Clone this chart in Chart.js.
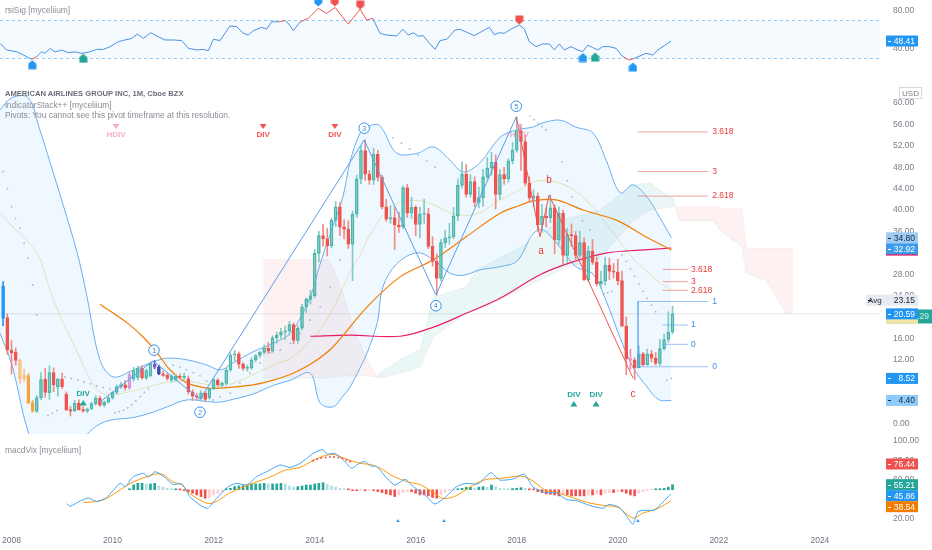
<!DOCTYPE html>
<html>
<head>
<meta charset="utf-8" />
<title>AAL 1M</title>
<script src="https://cdn.jsdelivr.net/npm/chart.js@4.4.1/dist/chart.umd.min.js"></script>
<style>
  html, body { margin: 0; padding: 0; background: #ffffff; }
  body { width: 932px; height: 550px; position: relative; overflow: hidden; font-family: "Liberation Sans", Arial, sans-serif; }
  .pane { position: absolute; left: 0; width: 932px; }
  .legend { position: absolute; left: 5px; font-size: 8.4px; color: #8a8d96; white-space: nowrap; z-index: 2; line-height: 10.5px; }
  .legend b { font-weight: bold; color: #6a6d78; font-size: 7.6px; }
</style>
<script>
// ---- x axis (decimal years) ----
const X_MIN = 2007.772, X_MAX = 2025.19;
const yearTicks = [2008, 2010, 2012, 2014, 2016, 2018, 2020, 2022, 2024];
const firstMonth = 2007 + 10 / 12; // first candle: Nov 2007

// ---- monthly candles, Nov 2007 .. Feb 2021 ----
const opens = [
  25.8, 19.9,
  13.8, 13.4, 11.9, 8.5, 9.0, 4.0, 2.4, 4.9, 8.4, 5.8, 9.6, 6.9,
  8.4, 5.6, 2.7, 2.5, 3.9, 2.7, 2.4, 2.8, 3.8, 4.8, 3.5, 4.1,
  4.9, 5.9, 7.0, 7.3, 6.8, 8.4, 8.7, 10.4, 8.6, 9.0, 11.2, 10.7,
  9.4, 9.1, 8.2, 8.3, 8.9, 8.7, 8.5, 6.0, 5.2, 4.8, 5.8, 4.9,
  6.6, 8.2, 7.2, 7.6, 10.1, 12.9, 13.1, 11.2, 10.4, 10.5, 12.0, 12.8,
  13.4, 14.2, 13.6, 16.1, 16.6, 17.2, 17.4, 18.6, 15.6, 17.9, 21.9, 23.3,
  24.0, 31.9, 35.2, 34.6, 33.3, 38.1, 40.6, 36.8, 36.4, 33.6, 39.2, 45.8,
  51.1, 46.7, 45.6, 50.4, 46.1, 40.6, 38.3, 38.6, 37.2, 36.9, 44.2, 39.4,
  40.5, 37.3, 39.2, 39.3, 33.2, 30.4, 27.2, 33.9, 34.8, 35.0, 38.9, 44.6,
  46.7, 42.9, 45.3, 41.4, 42.3, 46.2, 47.8, 48.9, 42.9, 46.6, 45.8, 49.2,
  51.2, 54.8, 52.8, 45.0, 42.2, 42.6, 37.2, 38.8, 38.5, 40.4, 34.4, 39.4,
  31.5, 35.4, 35.2, 31.5, 33.9, 27.0, 32.3, 30.2, 26.2, 26.7, 29.7, 28.5,
  28.4, 26.8, 18.3, 12.2, 12.0, 10.5, 13.1, 11.1, 13.1, 12.3, 11.3, 14.1,
  15.8, 17.2
];
const highs = [
  26.6, 20.6,
  15.6, 14.2, 12.2, 10.3, 9.4, 4.4, 5.3, 9.6, 10.4, 10.9, 10.5, 8.6,
  9.5, 6.0, 3.3, 4.4, 4.5, 3.3, 3.0, 4.1, 5.3, 5.2, 4.3, 5.2,
  6.0, 7.3, 7.8, 8.1, 9.6, 10.6, 10.8, 10.9, 10.3, 11.6, 11.9, 11.0,
  9.9, 9.4, 9.2, 9.3, 9.4, 9.5, 9.0, 6.4, 5.7, 6.2, 6.0, 6.8,
  8.6, 8.5, 7.9, 10.5, 13.3, 13.8, 13.5, 11.5, 11.0, 12.4, 13.0, 13.6,
  14.8, 15.2, 16.5, 17.2, 17.9, 18.3, 19.2, 18.9, 18.4, 22.4, 23.6, 25.0,
  32.6, 36.0, 37.3, 36.6, 38.5, 41.6, 41.4, 38.2, 38.0, 39.8, 46.5, 52.0,
  53.1, 47.4, 51.6, 51.2, 46.5, 42.0, 40.8, 40.5, 39.6, 44.5, 44.8, 42.4,
  40.8, 40.5, 42.0, 40.3, 35.0, 31.8, 34.5, 36.2, 37.5, 40.5, 45.8, 49.0,
  48.5, 46.6, 46.2, 44.3, 47.6, 49.8, 50.8, 50.3, 47.6, 48.0, 49.6, 52.6,
  57.4, 55.6, 54.0, 46.2, 43.8, 43.2, 41.0, 40.4, 42.8, 41.0, 40.6, 40.0,
  36.6, 37.4, 36.0, 36.0, 34.8, 33.2, 34.5, 31.2, 28.6, 31.2, 31.0, 30.0,
  30.8, 28.6, 20.0, 14.0, 12.4, 14.6, 13.4, 14.0, 13.8, 13.4, 15.8, 16.8,
  21.0, 22.0
];
const lows = [
  18.4, 13.0,
  9.3, 11.0, 7.6, 7.9, 3.8, 2.2, 2.1, 4.5, 5.0, 4.6, 6.0, 5.2,
  6.6, 2.5, 1.5, 2.3, 2.6, 2.2, 2.1, 2.7, 3.5, 3.3, 3.2, 3.9,
  4.6, 5.6, 6.6, 6.3, 6.5, 8.0, 8.2, 8.4, 8.3, 8.8, 10.3, 9.2,
  8.9, 8.2, 7.8, 8.0, 8.4, 8.3, 5.6, 4.4, 4.6, 4.3, 4.3, 4.6,
  6.4, 7.0, 6.8, 7.3, 9.8, 11.8, 10.4, 10.0, 9.9, 10.2, 11.6, 12.4,
  13.1, 13.2, 13.4, 15.1, 16.0, 15.8, 16.6, 15.0, 15.1, 17.6, 20.8, 22.4,
  23.6, 30.3, 33.2, 31.4, 32.9, 36.9, 35.2, 34.6, 32.8, 26.8, 38.6, 44.9,
  45.5, 44.8, 44.8, 45.4, 40.2, 37.9, 37.5, 32.6, 35.8, 36.5, 38.6, 38.4,
  35.2, 34.8, 37.5, 32.8, 29.5, 24.1, 26.8, 33.0, 33.6, 34.6, 38.0, 44.1,
  42.4, 42.4, 40.6, 40.4, 40.7, 45.8, 46.5, 40.2, 42.0, 44.8, 45.2, 48.6,
  50.8, 47.4, 44.6, 41.4, 40.6, 36.0, 35.8, 36.8, 37.6, 31.8, 33.6, 29.8,
  30.2, 33.2, 30.4, 31.0, 26.8, 26.6, 29.8, 25.8, 25.4, 26.0, 27.0, 27.3,
  26.0, 18.2, 9.2, 10.2, 8.3, 10.5, 10.9, 11.0, 11.6, 11.0, 10.9, 13.8,
  15.3, 16.9
];
const closes = [
  19.8, 13.8,
  13.3, 11.9, 8.4, 9.1, 4.0, 2.4, 4.9, 8.3, 5.9, 9.6, 7.3, 8.4,
  7.0, 2.7, 2.4, 3.9, 2.7, 2.4, 2.8, 3.8, 4.8, 3.5, 4.1, 4.9,
  5.9, 7.0, 7.3, 6.8, 9.2, 10.0, 10.4, 8.6, 10.0, 11.3, 10.6, 9.4,
  9.1, 8.5, 9.0, 8.9, 8.7, 8.9, 6.0, 5.2, 5.0, 5.8, 4.6, 6.6,
  8.3, 7.3, 7.6, 10.1, 12.9, 13.1, 11.2, 10.4, 10.5, 12.0, 12.8, 13.4,
  14.2, 13.6, 16.1, 16.6, 17.2, 17.4, 18.6, 15.6, 17.9, 21.9, 23.3, 24.0,
  31.9, 35.2, 34.6, 33.3, 38.1, 40.6, 36.8, 36.4, 33.6, 39.2, 45.8, 51.1,
  46.7, 45.6, 50.4, 46.1, 40.6, 38.3, 38.6, 37.2, 36.9, 44.2, 39.4, 40.5,
  37.3, 39.2, 39.3, 33.2, 30.4, 27.2, 33.9, 34.8, 35.0, 38.9, 44.6, 46.7,
  42.9, 45.3, 41.4, 42.3, 46.2, 47.8, 48.9, 42.9, 46.6, 45.8, 49.2, 51.2,
  54.8, 52.8, 45.0, 42.2, 42.6, 37.2, 38.8, 38.5, 40.4, 34.4, 39.4, 31.5,
  35.4, 35.2, 31.5, 33.9, 27.0, 32.3, 30.2, 26.2, 26.7, 29.7, 28.5, 28.4,
  26.8, 18.3, 12.2, 12.0, 10.5, 13.1, 11.1, 13.1, 12.3, 11.3, 14.1, 15.8,
  17.2, 20.6
];

// ---- bollinger bands ----
const bbYears = [2007.77, 2008.01, 2008.33, 2008.56, 2008.76, 2009.02, 2009.30, 2009.49, 2009.75, 2010.01,
  2010.41, 2010.80, 2011.08, 2011.47, 2011.87, 2012.13, 2012.38, 2012.78, 2013.18, 2013.52,
  2013.91, 2014.11, 2014.36, 2014.56, 2014.70, 2014.90, 2015.04, 2015.24, 2015.35, 2015.63,
  2016.03, 2016.35, 2016.68, 2016.94, 2017.27, 2017.67, 2018.01, 2018.32, 2018.52, 2018.86,
  2019.17, 2019.51, 2019.77, 2020.05, 2020.30, 2020.58, 2020.82, 2021.06];
const bbUpper = [58.7, 61, 61, 55, 49, 41, 32, 24, 12, 8.8,
  10.1, 11.6, 12.3, 12.0, 11.0, 10.1, 11.4, 13.5, 15.1, 17.0,
  23.7, 30, 37, 42.5, 49, 54.4, 55.5, 56, 55.0, 50.6,
  50.6, 51.8, 49.3, 47.1, 48.8, 53.6, 55, 55.5, 56.3, 56.8,
  55.5, 54.4, 49.3, 43.2, 44.7, 42.4, 38.8, 34.8];
const bbMid = [39.4, 37, 34, 31, 25, 19, 13.5, 9.5, 6.0, 5.5,
  6.2, 7.2, 7.8, 8.0, 7.4, 7.0, 7.6, 9.2, 11.0, 12.3,
  15.5, 17.6, 21.5, 25.5, 28.5, 31.5, 34.5, 37.5, 39, 41.2,
  41.8, 41, 39.5, 39, 39.5, 41.9, 43.5, 45.2, 45.5, 45.0,
  43.5, 40.5, 37.5, 34, 31, 28.5, 26.5, 25];
const bbLower = [17, 11, -1.5, -5, -7, -8, -5, -2, 0, 0.8,
  1.2, 2.2, 3.2, 4.5, 4.2, 4.1, 4.6, 5.6, 7.2, 8.2,
  9.5, 3.9, 3.2, 5.2, 6.9, 10.5, 13.3, 19, 25.6, 30,
  32, 30.7, 28.2, 27.8, 28.8, 29.4, 30.5, 35.5, 36.3, 33,
  29.4, 28, 23, 16, 10.6, 6.9, 4.5, 4.4];

// ---- moving averages ----
const maYears = [2009.75, 2010.29, 2010.60, 2010.88, 2011.14, 2011.47, 2011.87, 2012.13, 2012.38, 2012.78,
  2013.18, 2013.57, 2013.97, 2014.36, 2015.04, 2015.69, 2016.35, 2017.00, 2017.67, 2018.07,
  2018.32, 2018.78, 2019.31, 2019.97, 2020.50, 2021.06];
const maValues = [22.4, 18.9, 16.3, 13.3, 10.1, 7.7, 6.7, 6.7, 6.9, 7.3,
  8.2, 9.5, 11.5, 14.4, 21.9, 27.5, 30.7, 35.0, 39.4, 40.9,
  41.7, 41.9, 40.0, 38.1, 35.3, 32.5];
const slowYears = [2013.91, 2014.70, 2015.69, 2016.35, 2017.00, 2017.67, 2018.46, 2019.11, 2019.79, 2020.44, 2021.06];
const slowValues = [16.4, 16.6, 16.4, 18.1, 20.7, 23.5, 27.9, 30.3, 32.0, 32.5, 32.9];

// ---- parabolic SAR dots ----
const sarYears = [2007.83, 2007.92, 2008.00, 2008.08, 2008.17, 2008.25, 2008.33, 2008.42, 2008.50,
  2008.72, 2008.81, 2008.90,
  2009.06, 2009.18, 2009.31, 2009.43, 2009.56, 2009.69, 2009.82, 2009.95,
  2010.05, 2010.13, 2010.22, 2010.30, 2010.38, 2010.46, 2010.55, 2010.63, 2010.71,
  2011.20, 2011.33, 2011.46, 2011.60, 2011.73, 2011.86,
  2011.99, 2012.13, 2012.33, 2012.52, 2012.72, 2012.92, 2013.12, 2013.32, 2013.52, 2013.71, 2013.91, 2014.11, 2014.31, 2014.50, 2014.70,
  2015.55, 2015.72, 2015.88, 2016.05, 2016.22, 2016.38,
  2018.26, 2018.34, 2018.42, 2018.50, 2018.58,
  2018.90, 2019.00, 2019.10, 2019.20, 2019.30, 2019.45,
  2019.72, 2019.80, 2019.88,
  2020.08, 2020.17, 2020.25, 2020.33, 2020.42, 2020.50, 2020.58, 2020.67, 2020.75,
  2020.97, 2021.06];
const sarValues = [47.2, 44.0, 40.6, 38.4, 36.6, 33.8, 31.0, 26.0, 20.4,
  1.6, 2.0, 2.5,
  8.8, 8.5, 8.2, 7.9, 7.5, 7.1, 6.8, 6.5,
  2.1, 2.3, 2.6, 3.0, 3.6, 4.3, 5.1, 5.9, 6.6,
  11.0, 10.6, 10.1, 9.6, 9.0, 8.0,
  4.5, 5.1, 5.8, 7.7, 9.5, 11.4, 13.3, 13.8, 15.1, 17.0, 19.4, 21.9, 25.6, 30.7, 34.4,
  53.5, 52.5, 51.4, 50.3, 49.2, 48.0,
  57.6, 56.9, 56.2, 55.6, 55.0,
  49.0, 45.5, 42.5, 40.5, 38.0, 36.3,
  24.3, 24.5, 24.8,
  31.6, 30.4, 29.0, 27.6, 26.2, 24.8, 23.5, 22.2, 21.0,
  8.2, 8.5];

// ---- cloud ----
const cloudYears = [2012.98, 2014.27, 2014.36, 2014.56, 2014.76, 2015.04, 2015.24, 2015.29, 2015.69, 2016.09,
  2016.35, 2017.00, 2017.21, 2018.07, 2018.86, 2019.65, 2020.30, 2020.64, 2021.10, 2021.22,
  2021.89, 2022.01, 2022.46, 2022.54, 2022.94, 2023.33, 2023.47];
const cloudA = [8.6, 8.6, 8.8, 9.0, 9.0, 9.0, 8.8, 9.5, 12.0, 14.0,
  23.7, 25.6, 28.8, 33.0, 38.0, 40.0, 44.7, 45.0, 42.0, 38.0,
  38.0, 36.3, 33.1, 28.2, 26.9, 20.7, 20.7];
const cloudB = [30.7, 30.7, 29.3, 24.5, 18.1, 12.0, 8.8, 8.5, 9.5, 10.6,
  16.3, 20.7, 21.3, 25.0, 28.8, 31.0, 38.0, 40.0, 40.6, 40.6,
  40.6, 40.4, 40.2, 32.9, 32.9, 32.9, 32.9];

// ---- wave counts ----
const waveYears = [2009.75, 2010.80, 2011.73, 2014.98, 2016.40, 2017.99];
const wavePrices = [4.1, 11.8, 4.6, 53.1, 24.1, 57.4];
const corrYears = [2017.99, 2018.46, 2018.64, 2020.30];
const corrPrices = [57.4, 35.0, 42.8, 8.6];
const waveTagYears = [2010.82, 2011.73, 2014.98, 2016.40, 2017.99];
const waveTagPrices = [13.8, 2.2, 55.3, 22.1, 59.4];
const waveTagTexts = ['1', '2', '3', '4', '5'];
const abcYears = [2018.48, 2018.64, 2020.30];
const abcPrices = [32.3, 45.6, 5.6];
const abcTexts = ['a', 'b', 'c'];

// ---- divergence tags ----
const divYears = [2010.07, 2012.98, 2014.40, 2018.05, 2009.42, 2019.13, 2019.57];
const divPrices = [54.0, 54.0, 54.0, 54.0, 5.6, 5.4, 5.4];
const divTexts = ['HDIV', 'DIV', 'DIV', 'HDIV', 'DIV', 'DIV', 'DIV'];
const divKinds = ['hbear', 'bear', 'bear', 'hbear', 'bull', 'bull', 'bull'];

// ---- fib projections ----
const fibWideYears = [2020.40, 2021.79];
const fibNarrowYears = [2020.89, 2021.39];
const fibRedLabels = ['3.618', '3', '2.618'];
const fibRedWidePrices = [54.6, 47.2, 42.6];
const fibRedNarrowPrices = [28.9, 26.6, 25.0];
const fibBlueLabels = ['1', '0'];
const fibBlueWidePrices = [22.9, 10.7];
const fibBlueNarrowPrices = [18.5, 14.9];
const lastPrice = 20.59;

// ---- rsi pane ----
const rsiYears = [2007.772, 2007.905, 2008.103, 2008.234, 2008.400, 2008.499, 2008.598, 2008.663, 2008.762, 2008.861,
  2008.994, 2009.124, 2009.257, 2009.390, 2009.554, 2009.686, 2009.817, 2009.950, 2010.114, 2010.247,
  2010.379, 2010.490, 2010.609, 2010.755, 2010.874, 2011.038, 2011.203, 2011.369, 2011.500, 2011.666,
  2011.797, 2011.896, 2011.995, 2012.127, 2012.325, 2012.458, 2012.588, 2012.687, 2012.786, 2012.953,
  2013.051, 2013.150, 2013.281, 2013.414, 2013.479, 2013.578, 2013.711, 2013.875, 2014.073, 2014.239,
  2014.404, 2014.536, 2014.667, 2014.766, 2014.899, 2015.031, 2015.150, 2015.294, 2015.427, 2015.625,
  2015.743, 2015.854, 2015.953, 2016.052, 2016.151, 2016.284, 2016.383, 2016.482, 2016.614, 2016.779,
  2016.878, 2016.997, 2017.161, 2017.294, 2017.458, 2017.557, 2017.656, 2017.755, 2017.887, 2018.052,
  2018.150, 2018.249, 2018.382, 2018.515, 2018.645, 2018.744, 2018.843, 2018.942, 2019.075, 2019.174,
  2019.306, 2019.405, 2019.504, 2019.603, 2019.702, 2019.833, 2019.965, 2020.098, 2020.228, 2020.327,
  2020.427, 2020.559, 2020.692, 2020.791, 2020.922, 2021.054];
const rsiValues = [46, 38.9, 37.1, 33.7, 29.2, 31.9, 37.2, 35.4, 40.7, 37,
  38.9, 36.2, 37, 35.4, 37, 39.6, 39.6, 42.4, 47.7, 49.5,
  51.1, 55.8, 51.1, 57.2, 53.7, 49.5, 49.5, 48.9, 40.7, 39,
  39.6, 38.2, 50.2, 48.9, 64.2, 63.5, 56.5, 54.7, 59.3, 62.8,
  61, 68.8, 68.5, 70, 67, 59.3, 68.5, 72.3, 82.8, 77.5,
  83.8, 74.7, 66.3, 73, 81.8, 70.5, 72.3, 56.5, 54.7, 53.7,
  60.7, 54.7, 57.2, 53.5, 54, 45.3, 39.7, 48.9, 50.2, 60,
  60.7, 58, 54, 58, 62.8, 55, 57.2, 56.5, 61, 65.3,
  61, 47.7, 42.5, 45.3, 45.3, 39, 45.3, 39, 42.5, 39.7,
  37.2, 44, 41.5, 39, 42.5, 42.5, 40.7, 31.9, 28.4, 30.1,
  32.5, 35.4, 33.7, 38.9, 43.5, 48.41];
const rsiMarkYears = [2008.41, 2009.42, 2014.07, 2014.40, 2014.90, 2018.05, 2019.31, 2019.55, 2020.30];
const rsiMarkValues = [23.5, 30.2, 89.5, 89.5, 86.3, 70.5, 31.0, 31.5, 21.0];
const rsiMarkKinds = ['blueUp', 'tealUp', 'blueDown', 'redDown', 'redDown', 'redDown', 'blueUp', 'tealUp', 'blueUp'];

// ---- macd pane ----
const macdYears = [2009.09, 2009.16, 2009.36, 2009.52, 2009.69, 2009.88, 2010.15, 2010.25, 2010.41, 2010.61,
  2010.71, 2010.84, 2011.00, 2011.20, 2011.37, 2011.53, 2011.73, 2011.88, 2012.06, 2012.29,
  2012.46, 2012.66, 2012.85, 2013.12, 2013.31, 2013.51, 2013.71, 2013.97, 2014.16, 2014.24,
  2014.40, 2014.57, 2014.73, 2014.90, 2015.00, 2015.10, 2015.23, 2015.43, 2015.59, 2015.79,
  2015.95, 2016.18, 2016.38, 2016.61, 2016.81, 2017.00, 2017.23, 2017.49, 2017.66, 2017.92,
  2018.15, 2018.32, 2018.58, 2018.78, 2018.98, 2019.17, 2019.44, 2019.70, 2019.83, 2020.03,
  2020.16, 2020.30, 2020.40, 2020.56, 2020.72, 2020.89, 2021.05];
const macdValues = [36, 33, 38.5, 41.5, 38, 42, 56.6, 53, 63.4, 66.8,
  63, 68.5, 64, 55.6, 56, 42.9, 34.4, 31, 41.2, 53.2,
  56.6, 54.9, 63.4, 70.3, 75.4, 72.9, 77, 87.3, 91.4, 86.6,
  87.3, 80.5, 72, 77.8, 78.8, 74.5, 73.8, 61.7, 54.9, 60.7,
  53.2, 44.6, 35.4, 43.5, 53.2, 56.6, 56, 67.5, 60, 61,
  66, 53, 47, 47, 40, 39, 34, 31, 35, 32,
  24, 14.6, 27.5, 29, 29, 37, 45.86];
const signalYears = [2009.42, 2009.69, 2009.88, 2010.15, 2010.41, 2010.84, 2011.00, 2011.20, 2011.37, 2011.53,
  2011.88, 2012.06, 2012.29, 2012.55, 2012.85, 2013.12, 2013.41, 2013.71, 2013.97, 2014.20,
  2014.40, 2014.60, 2014.90, 2015.10, 2015.30, 2015.55, 2015.85, 2016.10, 2016.35, 2016.55,
  2016.81, 2017.05, 2017.35, 2017.75, 2018.10, 2018.32, 2018.58, 2018.80, 2019.10, 2019.40,
  2019.70, 2020.00, 2020.30, 2020.50, 2020.80, 2021.05];
const signalValues = [37, 38, 41, 50, 58, 66, 65.5, 58, 55, 46,
  36, 38, 46, 52, 58, 63, 70, 73, 80, 85,
  86, 82, 77, 76, 72, 64, 58, 55, 47, 41,
  44, 52, 60, 62, 64, 59, 49, 47, 42, 37,
  34, 32, 21, 26, 31, 38.54];
const histStart = 2010 + 4 / 12; // May 2010
const histBase = 50;
const histValues = [
  1.0, 4.9, 6.6, 6.6, 6.0, 6.0, 6.6, 3.9,
  2.6, 1.5, 0.5, 0.5, -0.1, -1.0, -1.9, -3.6, -5.3, -7.0, -8.7, -8.0,
  -5.3, -3.6, -1.9, 0.8, 1.5, 3.2, 3.9, 4.2, 4.9, 6.0, 6.0, 6.0,
  6.6, 6.0, 6.0, 6.0, 6.6, 6.0, 3.9, 2.6, 3.2, 3.9, 4.9, 4.9,
  6.0, 6.6, 7.3, 5.6, 3.9, 2.6, 1.5, 0.5, -0.1, -1.0, -1.0, -0.7,
  -1.0, -0.7, -1.0, -1.9, -2.9, -4.3, -5.3, -7.0, -5.3, -2.9, -1.9, -1.9,
  -3.6, -5.3, -5.3, -6.3, -8.0, -8.7, -5.3, -2.9, -1.0, -0.1, 0.8, 1.5,
  2.6, 2.6, 1.5, 2.6, 3.2, 2.6, 4.9, 3.2, 1.5, 0.8, 0.5, 1.2,
  1.5, 2.2, 1.5, -0.1, -0.1, -1.9, -2.9, -4.3, -4.6, -5.3, -6.3, -5.3,
  -5.3, -6.3, -6.3, -6.3, -6.3, -5.3, -5.3, -4.6, -5.3, -3.6, -2.9, -2.9,
  -1.9, -1.9, -3.6, -5.3, -6.3, -3.6, -1.9, -0.7, -0.1, 0.0, 0.8, 1.5,
  2.6, 5.21
];
const macdDotYears = [2013.97, 2014.05, 2014.13, 2014.22, 2014.30, 2014.38, 2014.47, 2014.55, 2014.63, 2014.70];
const macdDotValues = [80, 81.5, 82.5, 83, 83.5, 83.5, 83, 82, 80.5, 79];
const macdArrowYears = [2015.65, 2016.56, 2020.40];
const macdArrowValues = [18, 18, 18];
</script>
</head>
<body>
<div class="pane" style="top:0;height:76px"><canvas id="rsiCanvas"></canvas></div>
<div class="pane" style="top:76px;height:358px"><canvas id="priceCanvas"></canvas></div>
<div class="pane" style="top:434px;height:116px"><canvas id="macdCanvas"></canvas></div>
<div class="legend" style="top:5px">rsiSig [myceliium]</div>
<div class="legend" style="top:88px"><b>AMERICAN AIRLINES GROUP INC, 1M, Cboe BZX</b><br>indicatorStack++ [myceliium]<br>Pivots: You cannot see this pivot timeframe at this resolution.</div>
<div class="legend" style="top:445px">macdVix [myceliium]</div>

<script>
Chart.defaults.font.family = '"Liberation Sans", Arial, sans-serif';
Chart.defaults.font.size = 8.5;
Chart.defaults.color = '#7b7e88';

const FONT = '"Liberation Sans", Arial, sans-serif';
const UP = '#4db6ac', DOWN = '#ef5350';
const UP_WICK = '#80cbc4', DOWN_WICK = '#f08a87';
const candleStyle = {
  0: { color: '#2196f3', hollow: false },
  4: { color: '#f9c38a', hollow: false },
  5: { color: '#f9c38a', hollow: false },
  6: { color: '#f5a340', hollow: false },
  7: { color: '#f5a340', hollow: false },
  30: { color: '#ce93d8', hollow: true },
  36: { color: '#7e57c2', hollow: false },
  37: { color: '#3949ab', hollow: false },
  149: { color: '#f48fb1', hollow: true }
};

const pts = (xs, ys) => xs.map((x, i) => ({ x: x, y: ys[i] }));

function xAxis(show) {
  return {
    type: 'linear', min: X_MIN, max: X_MAX, display: show, offset: false,
    grid: { display: false, drawTicks: false }, border: { display: false },
    ticks: { autoSkip: false, maxRotation: 0, padding: 6, color: '#6f7280', callback: v => String(v) },
    afterBuildTicks: s => { s.ticks = yearTicks.map(v => ({ value: v })); },
    afterFit: s => { s.height = show ? 20 : 0; s.paddingLeft = 0; s.paddingRight = 0; }
  };
}
function yAxis(min, max, ticks) {
  return {
    position: 'right', min: min, max: max,
    grid: { display: false, drawTicks: false }, border: { display: false },
    ticks: { autoSkip: false, padding: 13, color: '#7b7e88', callback: v => v.toFixed(2) },
    afterBuildTicks: s => { s.ticks = ticks.map(v => ({ value: v })); },
    afterFit: s => { s.width = 52; s.paddingTop = 0; s.paddingBottom = 0; }
  };
}
const baseOptions = () => ({
  responsive: true, maintainAspectRatio: false, animation: false,
  layout: { padding: 0, autoPadding: false },
  plugins: { legend: { display: false }, tooltip: { enabled: false } }
});

// right-hand value boxes
function drawBoxes(chart, items) {
  const ctx = chart.ctx, y = chart.scales.y;
  let prev = -Infinity;
  ctx.save();
  ctx.font = '8.5px ' + FONT;
  ctx.textBaseline = 'middle';
  items.forEach(it => {
    let py = y.getPixelForValue(it.value);
    if (it.stack) { if (py < prev + 11) py = prev + 11; prev = py; }
    const x0 = it.x0 || 886, x1 = it.x1 || 918, h = it.h || 11;
    ctx.fillStyle = it.bg;
    ctx.fillRect(x0, py - h / 2, x1 - x0, h);
    if (it.text) {
      ctx.fillStyle = it.fg;
      ctx.textAlign = 'right';
      ctx.fillText(it.text, x1 - 3, py + 0.5);
      ctx.fillRect(x0 + 2, Math.round(py), 3, 1);
    }
  });
  ctx.restore();
}

function makeMarker(color, down) {
  const c = document.createElement('canvas');
  c.width = 9; c.height = 10;
  const g = c.getContext('2d');
  g.fillStyle = color;
  g.beginPath();
  if (down) { g.moveTo(0.5, 0.5); g.lineTo(8.5, 0.5); g.lineTo(8.5, 6); g.lineTo(4.5, 9.5); g.lineTo(0.5, 6); }
  else { g.moveTo(4.5, 0.5); g.lineTo(8.5, 4); g.lineTo(8.5, 9.5); g.lineTo(0.5, 9.5); g.lineTo(0.5, 4); }
  g.closePath();
  g.fill();
  return c;
}

window.addEventListener('DOMContentLoaded', function () {
  // ================= RSI =================
  const markerImgs = {
    blueUp: makeMarker('#2196f3', false), tealUp: makeMarker('#26a69a', false),
    blueDown: makeMarker('#2196f3', true), redDown: makeMarker('#ef5350', true)
  };
  const rsiOptions = baseOptions();
  rsiOptions.scales = { x: xAxis(false), y: yAxis(11.58, 91.58, [40, 80]) };
  new Chart(document.getElementById('rsiCanvas'), {
    type: 'line',
    data: {
      datasets: [
        { data: pts([X_MIN, X_MAX], [70, 70]), borderColor: '#90caf9', borderWidth: 1, borderDash: [3, 3],
          pointRadius: 0, fill: { target: 1, above: 'rgba(33,150,243,0.045)', below: 'rgba(33,150,243,0.045)' }, order: 5 },
        { data: pts([X_MIN, X_MAX], [30, 30]), borderColor: '#90caf9', borderWidth: 1, borderDash: [3, 3],
          pointRadius: 0, fill: false, order: 5 },
        { data: pts(rsiYears, rsiValues), borderColor: '#4a90e2', borderWidth: 1, pointRadius: 0, tension: 0,
          segment: { borderColor: c => { const m = (c.p0.parsed.y + c.p1.parsed.y) / 2; return (m > 69 || m < 31) ? '#ef5350' : undefined; } },
          order: 2 },
        { data: pts(rsiMarkYears, rsiMarkValues), showLine: false,
          pointStyle: rsiMarkKinds.map(k => markerImgs[k]), order: 1 }
      ]
    },
    options: rsiOptions,
    plugins: [{ id: 'rsiBoxes', afterDraw: ch => drawBoxes(ch, [{ value: 48.41, text: '48.41', bg: '#2196f3', fg: '#ffffff' }]) }]
  });

  // ================= PRICE =================
  const wickData = [], wickColors = [], bodyData = [], bodyFill = [], bodyLine = [];
  closes.forEach((c, i) => {
    const o = opens[i], x = firstMonth + i / 12;
    const up = c >= o;
    const sp = candleStyle[i];
    const line = sp ? sp.color : (up ? UP : DOWN);
    const hollow = sp ? sp.hollow : up;
    bodyData.push({ x: x, y: [o, c] });
    bodyFill.push(hollow ? 'rgba(0,0,0,0)' : line);
    bodyLine.push(line);
    const wc = sp ? sp.color : (up ? UP_WICK : DOWN_WICK);
    wickData.push({ x: x, y: [Math.max(o, c), highs[i]] }, { x: x, y: [lows[i], Math.min(o, c)] });
    wickColors.push(wc, wc);
  });

  const priceSets = [
    { data: pts(cloudYears, cloudA), borderColor: 'rgba(38,166,154,0.15)', borderWidth: 0.6, pointRadius: 0,
      fill: { target: 1, above: 'rgba(38,166,154,0.09)', below: 'rgba(242,54,69,0.07)' }, order: 30 },
    { data: pts(cloudYears, cloudB), borderColor: 'rgba(242,54,69,0.10)', borderWidth: 0.6, pointRadius: 0, fill: false, order: 30 },
    { data: pts(bbYears, bbUpper), borderColor: '#6aaef0', borderWidth: 1, pointRadius: 0, tension: 0.35,
      fill: { target: 3, above: 'rgba(33,150,243,0.07)', below: 'rgba(33,150,243,0.07)' }, order: 20 },
    { data: pts(bbYears, bbLower), borderColor: '#6aaef0', borderWidth: 1, pointRadius: 0, tension: 0.35, fill: false, order: 20 },
    { data: pts(bbYears, bbMid), borderColor: 'rgba(205,205,110,0.6)', borderWidth: 0.8, pointRadius: 0, tension: 0.35, fill: false, order: 19 },
    { data: pts([X_MIN, X_MAX], [lastPrice, lastPrice]), borderColor: 'rgba(0,0,0,0.10)', borderWidth: 1, pointRadius: 0, fill: false, order: 18 },
    { data: pts(maYears, maValues), borderColor: '#f57c00', borderWidth: 1.2, pointRadius: 0, tension: 0.35, fill: false, order: 12 },
    { data: pts(slowYears, slowValues), borderColor: '#e91e63', borderWidth: 1.2, pointRadius: 0, tension: 0.35, fill: false, order: 12 },
    { data: pts(sarYears, sarValues), showLine: false, pointRadius: 0.9, pointBackgroundColor: 'rgba(120,130,150,0.55)',
      pointBorderWidth: 0, order: 11 },
    { type: 'bar', data: wickData, backgroundColor: wickColors, borderWidth: 0, barThickness: 1, grouped: false, order: 6 },
    { type: 'bar', data: bodyData, backgroundColor: bodyFill, borderColor: bodyLine, borderWidth: 1,
      borderSkipped: false, barThickness: 3, minBarLength: 1, grouped: false, order: 5 },
    { data: pts(waveYears, wavePrices), borderColor: '#5b9cec', borderWidth: 1, pointRadius: 0, fill: false, order: 3 },
    { data: pts(corrYears, corrPrices), borderColor: '#ef5350', borderWidth: 1, pointRadius: 0, fill: false, order: 3 }
  ];
  fibRedWidePrices.forEach(p => priceSets.push({ data: pts(fibWideYears, [p, p]), borderColor: 'rgba(239,83,80,0.55)', borderWidth: 1, pointRadius: 0, fill: false, order: 4 }));
  fibRedNarrowPrices.forEach(p => priceSets.push({ data: pts(fibNarrowYears, [p, p]), borderColor: 'rgba(239,83,80,0.55)', borderWidth: 1, pointRadius: 0, fill: false, order: 4 }));
  fibBlueWidePrices.forEach(p => priceSets.push({ data: pts(fibWideYears, [p, p]), borderColor: 'rgba(91,156,236,0.6)', borderWidth: 1, pointRadius: 0, fill: false, order: 4 }));
  fibBlueNarrowPrices.forEach(p => priceSets.push({ data: pts(fibNarrowYears, [p, p]), borderColor: 'rgba(91,156,236,0.6)', borderWidth: 1, pointRadius: 0, fill: false, order: 4 }));
  priceSets.push({ data: pts([fibWideYears[0], fibWideYears[0]], fibBlueWidePrices), borderColor: 'rgba(91,156,236,0.6)', borderWidth: 1, pointRadius: 0, fill: false, order: 4 });

  const notesPlugin = {
    id: 'priceNotes',
    afterDatasetsDraw(chart) {
      const ctx = chart.ctx, x = chart.scales.x, y = chart.scales.y;
      ctx.save();
      ctx.textAlign = 'center';
      ctx.textBaseline = 'middle';
      // wave circles
      waveTagYears.forEach((yr, k) => {
        const px = x.getPixelForValue(yr), py = y.getPixelForValue(waveTagPrices[k]);
        ctx.beginPath();
        ctx.arc(px, py, 5.3, 0, Math.PI * 2);
        ctx.fillStyle = 'rgba(255,255,255,0.85)';
        ctx.fill();
        ctx.strokeStyle = '#3d8ee6';
        ctx.lineWidth = 1;
        ctx.stroke();
        ctx.fillStyle = '#3d8ee6';
        ctx.font = '7.5px ' + FONT;
        ctx.fillText(waveTagTexts[k], px, py + 0.5);
      });
      // a b c
      ctx.font = '10px ' + FONT;
      ctx.fillStyle = '#e53935';
      abcYears.forEach((yr, k) => ctx.fillText(abcTexts[k], x.getPixelForValue(yr), y.getPixelForValue(abcPrices[k])));
      // divergence tags
      divYears.forEach((yr, k) => {
        const px = x.getPixelForValue(yr), py = y.getPixelForValue(divPrices[k]);
        const kind = divKinds[k];
        const col = kind === 'bull' ? '#26a69a' : (kind === 'bear' ? '#ef5350' : 'rgba(244,143,177,0.75)');
        ctx.fillStyle = col;
        ctx.font = 'bold 8px ' + FONT;
        ctx.fillText(divTexts[k], px, py);
        ctx.beginPath();
        if (kind === 'bull') { ctx.moveTo(px, py + 6); ctx.lineTo(px + 3.5, py + 11.5); ctx.lineTo(px - 3.5, py + 11.5); }
        else { ctx.moveTo(px - 3.5, py - 11); ctx.lineTo(px + 3.5, py - 11); ctx.lineTo(px, py - 6); }
        ctx.closePath();
        ctx.fill();
      });
      // fib labels
      ctx.textAlign = 'left';
      ctx.font = '8.5px ' + FONT;
      ctx.fillStyle = '#e53935';
      fibRedLabels.forEach((t, k) => {
        ctx.fillText(t, x.getPixelForValue(fibWideYears[1]) + 4, y.getPixelForValue(fibRedWidePrices[k]));
        ctx.fillText(t, x.getPixelForValue(fibNarrowYears[1]) + 3, y.getPixelForValue(fibRedNarrowPrices[k]));
      });
      ctx.fillStyle = '#3d8ee6';
      fibBlueLabels.forEach((t, k) => {
        ctx.fillText(t, x.getPixelForValue(fibWideYears[1]) + 4, y.getPixelForValue(fibBlueWidePrices[k]));
        ctx.fillText(t, x.getPixelForValue(fibNarrowYears[1]) + 3, y.getPixelForValue(fibBlueNarrowPrices[k]));
      });
      ctx.restore();
    },
    afterDraw(chart) {
      const ctx = chart.ctx;
      // USD tag
      ctx.save();
      ctx.strokeStyle = '#d6d8de';
      ctx.lineWidth = 1;
      ctx.strokeRect(899.5, 11.5, 22, 11);
      ctx.fillStyle = '#7b7e88';
      ctx.font = '8px ' + FONT;
      ctx.textAlign = 'center';
      ctx.textBaseline = 'middle';
      ctx.fillText('USD', 910.5, 17.5);
      ctx.restore();
      drawBoxes(chart, [
        { value: 32.5, bg: '#e91e63' },
        { value: 34.80, text: '34.80', bg: '#9fcbf3', fg: '#102a43', stack: true },
        { value: 32.92, text: '32.92', bg: '#3d9be9', fg: '#ffffff', stack: true },
        { value: 23.15, text: '23.15', bg: '#e6ebf1', fg: '#1c2030', x0: 866 },
        { value: 20.1, text: '20.29', bg: '#26a69a', fg: '#c8efe9', x1: 932, h: 14 },
        { value: 19.3, text: '', bg: '#f2e6a6', h: 6 },
        { value: 20.59, text: '20.59', bg: '#2196f3', fg: '#ffffff' },
        { value: 8.52, text: '8.52', bg: '#2196f3', fg: '#ffffff' },
        { value: 4.40, text: '4.40', bg: '#90caf9', fg: '#102a43' }
      ]);
      // "Avg" caption in the wide box
      const py = chart.scales.y.getPixelForValue(23.15);
      ctx.save();
      ctx.fillStyle = '#1c2030';
      ctx.font = '8px ' + FONT;
      ctx.textBaseline = 'middle';
      ctx.textAlign = 'left';
      ctx.fillText('Avg', 868, py + 0.5);
      ctx.restore();
    }
  };

  const priceOptions = baseOptions();
  priceOptions.scales = { x: xAxis(false), y: yAxis(-1.87, 65.05, [0, 4, 8, 12, 16, 20, 24, 28, 32, 36, 40, 44, 48, 52, 56, 60]) };
  new Chart(document.getElementById('priceCanvas'), {
    type: 'line',
    data: { datasets: priceSets },
    options: priceOptions,
    plugins: [notesPlugin]
  });

  // ================= MACD =================
  const histData = [], histColors = [];
  histValues.forEach((v, i) => {
    const prev = i > 0 ? histValues[i - 1] : 0;
    histData.push({ x: histStart + i / 12, y: [histBase, histBase + v] });
    if (v >= 0) histColors.push(v >= prev ? '#26a69a' : '#b2dfdb');
    else histColors.push(v <= prev ? '#ef5350' : '#ffcdd2');
  });
  const macdOptions = baseOptions();
  macdOptions.scales = { x: xAxis(true), y: yAxis(8.72, 107.18, [20, 40, 60, 80, 100]) };
  new Chart(document.getElementById('macdCanvas'), {
    type: 'line',
    data: {
      datasets: [
        { type: 'bar', data: histData, backgroundColor: histColors, borderWidth: 0, barThickness: 2, minBarLength: 1, grouped: false, order: 5 },
        { data: pts(signalYears, signalValues), borderColor: '#ff9800', borderWidth: 1, pointRadius: 0, tension: 0.3, fill: false, order: 3 },
        { data: pts(macdYears, macdValues), borderColor: '#42a5f5', borderWidth: 1, pointRadius: 0, tension: 0.2, fill: false, order: 2 },
        { data: pts(macdDotYears, macdDotValues), showLine: false, pointRadius: 1, pointBackgroundColor: '#ef5350', pointBorderWidth: 0, order: 1 },
        { data: pts(macdArrowYears, macdArrowValues), showLine: false, pointStyle: 'triangle', pointRadius: 2,
          pointBackgroundColor: '#2196f3', pointBorderWidth: 0, order: 1 }
      ]
    },
    options: macdOptions,
    plugins: [{ id: 'macdBoxes', afterDraw: ch => drawBoxes(ch, [
      { value: 76.44, text: '76.44', bg: '#ef5350', fg: '#ffffff', stack: true },
      { value: 55.21, text: '55.21', bg: '#26a69a', fg: '#ffffff', stack: true },
      { value: 45.86, text: '45.86', bg: '#2196f3', fg: '#ffffff', stack: true },
      { value: 38.54, text: '38.54', bg: '#f57c00', fg: '#ffffff', stack: true }
    ]) }]
  });
});
</script>
</body>
</html>
